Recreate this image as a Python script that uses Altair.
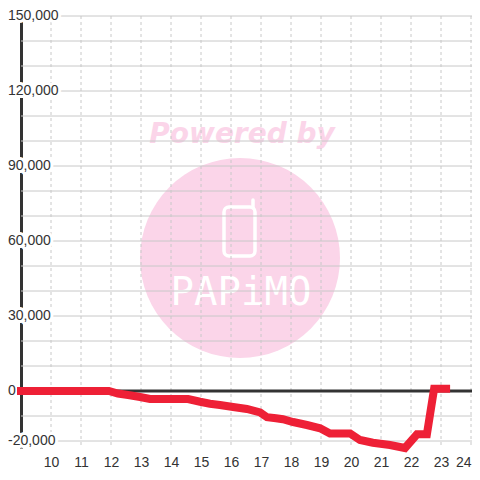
import altair as alt
import pandas as pd

# ---- data ----
hours = [9.0, 11.93, 12.23, 12.57, 12.97, 13.3, 14.57, 14.97, 15.3, 15.63, 16.07, 16.53,
         16.97, 17.2, 17.5, 17.73, 18.07, 18.53, 18.97, 19.3, 19.97, 20.3, 20.73, 21.3,
         21.8, 22.2, 22.53, 22.77, 23.17]
values = [0, 0, -1000, -1600, -2400, -3200, -3200, -4300, -5100, -5600, -6400, -7200,
          -8600, -10500, -10900, -11300, -12400, -13600, -14900, -17000, -17000, -19600,
          -20700, -21600, -22800, -17300, -17300, 900, 900]

x_ticks = list(range(10, 25))
y_grid = list(range(-20000, 150001, 10000))
y_label_values = [150000, 120000, 90000, 60000, 30000, 0, -20000]
y_label_texts = ["150,000", "120,000", "90,000", "60,000", "30,000", "0", "-20,000"]

line_df = pd.DataFrame({"h": hours, "v": values})
xt_df = pd.DataFrame({"h": x_ticks})
yg_df = pd.DataFrame({"v": y_grid})
yl_df = pd.DataFrame({"v": y_label_values, "t": y_label_texts})
one = pd.DataFrame({"a": [0]})

FONT = "Liberation Sans"
xscale = alt.Scale(domain=[9, 24.0333], nice=False, zero=False)
yscale = alt.Scale(domain=[-22800, 150000], nice=False, zero=False)
xaxis = alt.Axis(values=x_ticks, format="d", domain=False, ticks=False, tickSize=0,
                 grid=False, labelFontSize=14, labelFont=FONT, labelColor="#333333",
                 labelPadding=7, labelFlush=3, labelOverlap=False, title=None)
yaxis = alt.Axis(labels=False, ticks=False, grid=False, domain=True,
                 domainColor="#333333", domainWidth=3, title=None)


def X(f):
    return alt.X(f, type="quantitative", scale=xscale, axis=xaxis)


def Y(f):
    return alt.Y(f, type="quantitative", scale=yscale, axis=yaxis)


PINK = "#fbd5e9"

circle = alt.Chart(one).mark_circle(color=PINK, opacity=1).encode(
    x=alt.value(219), y=alt.value(242), size=alt.value(40000))
powered = alt.Chart(one).mark_text(
    text="Powered by", font="DejaVu Sans", fontWeight="bold", fontStyle="italic",
    fontSize=28, color=PINK, align="center", baseline="alphabetic"
).encode(x=alt.value(221), y=alt.value(127))
phone = alt.Chart(one).mark_rect(
    filled=False, stroke="white", strokeWidth=3.5, cornerRadius=5
).encode(x=alt.value(203), x2=alt.value(234), y=alt.value(191), y2=alt.value(240))
antenna = alt.Chart(one).mark_rule(
    color="white", strokeWidth=3.5, strokeCap="round"
).encode(x=alt.value(232), y=alt.value(184), y2=alt.value(192))
papimo = alt.Chart(one).mark_text(
    text="PAPiMO", font="DejaVu Sans Mono", fontSize=39, color="white",
    align="center", baseline="alphabetic"
).encode(x=alt.value(220), y=alt.value(289))

hgrid = alt.Chart(yg_df).mark_rule(color="#c8c8c8", strokeWidth=1).encode(y=Y("v"))
vgrid = alt.Chart(xt_df).mark_rule(color="#c8c8c8", strokeWidth=1, strokeDash=[3, 3]).encode(x=X("h"))
zero = alt.Chart(one).mark_rule(color="#333333", strokeWidth=3).encode(y=alt.datum(0))

halo = alt.Chart(yl_df).mark_text(
    font=FONT, fontSize=14, align="left", baseline="middle",
    fill="white", stroke="white", strokeWidth=6, strokeJoin="round"
).encode(x=alt.value(-13), y=Y("v"), text="t:N")
labels = alt.Chart(yl_df).mark_text(
    font=FONT, fontSize=14, align="left", baseline="middle", color="#333333"
).encode(x=alt.value(-13), y=Y("v"), text="t:N")

line = alt.Chart(line_df).mark_line(
    color="#ee2036", strokeWidth=8, strokeCap="square", strokeJoin="miter"
).encode(x=X("h"), y=Y("v"))

chart = alt.layer(
    circle, powered, phone, antenna, papimo, hgrid, vgrid, zero, halo, labels, line
).properties(
    width=451, height=432,
    autosize=alt.AutoSizeParams(type="none"),
    padding={"left": 13, "top": 8, "right": 0, "bottom": 22},
).configure_view(stroke=None)

chart.save("out.html", embed_options={"renderer": "svg", "actions": False})
